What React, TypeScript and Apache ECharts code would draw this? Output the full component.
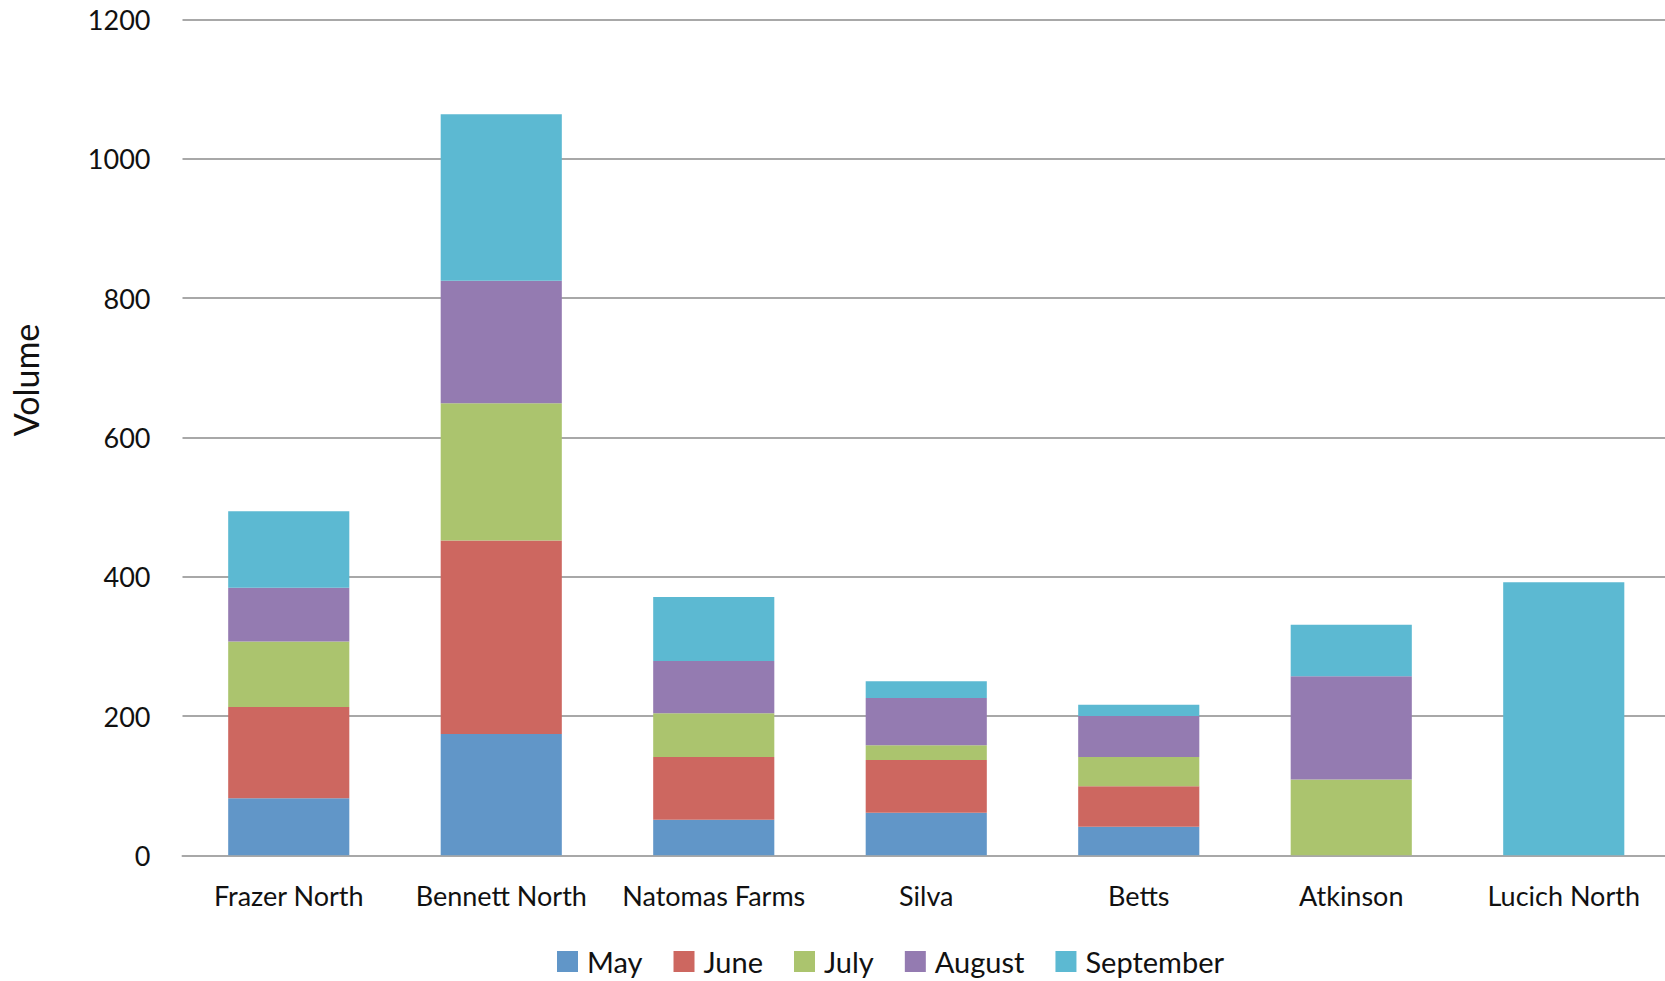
import React, { useEffect, useRef } from "react";
import * as echarts from "echarts";

const categories = ["Frazer North", "Bennett North", "Natomas Farms", "Silva", "Betts", "Atkinson", "Lucich North"];
const seriesNames = ["May", "June", "July", "August", "September"];
const may = [82, 174, 51, 61, 41, 0, 0];
const june = [131, 278, 90, 76, 58, 0, 0];
const july = [94, 197, 63, 21, 42, 109, 0];
const august = [77, 176, 75, 68, 59, 148, 0];
const september = [110, 239, 92, 24, 16, 74, 392];
const colors = ["#6196C8", "#CD6760", "#ABC46E", "#947BB1", "#5CB9D2"];
const yTicks = { min: 0, max: 1200, interval: 200 };

const FONT = "Lato, 'Noto Sans', sans-serif";

export default function App() {
  const ref = useRef<HTMLDivElement>(null);
  useEffect(() => {
    document.body.style.margin = "0";
    document.body.style.overflow = "hidden";
    document.documentElement.style.overflow = "hidden";
    if (!ref.current) return;
    const chart = echarts.init(ref.current, undefined, { renderer: "svg" });
    const values = [may, june, july, august, september];
    chart.setOption({
      animation: false,
      backgroundColor: "#ffffff",
      textStyle: { fontFamily: FONT },
      grid: { left: 182.5, top: 19.5, right: 2, bottom: 125.7, containLabel: false },
      legend: {
        data: seriesNames,
        left: 552,
        top: 942,
        icon: "rect",
        itemWidth: 21,
        itemHeight: 21,
        itemGap: 31,
        textStyle: { fontSize: 29, lineHeight: 29, color: "#111", fontFamily: FONT, padding: [0, 0, 0, 4] },
      },
      xAxis: {
        type: "category",
        data: categories,
        axisLine: { show: true, lineStyle: { color: "#a8a8a8", width: 2 } },
        axisTick: { show: false },
        axisLabel: { fontSize: 27, color: "#111", margin: 27, interval: 0, fontFamily: FONT },
      },
      yAxis: {
        type: "value",
        min: yTicks.min,
        max: yTicks.max,
        interval: yTicks.interval,
        axisLine: { show: false },
        axisTick: { show: false },
        splitLine: { lineStyle: { color: "#a8a8a8", width: 2 } },
        axisLabel: {
          fontSize: 27,
          color: "#111",
          margin: 32,
          fontFamily: FONT,
          formatter: (v: number) => String(v),
        },
      },
      graphic: [
        {
          type: "text",
          x: 25,
          y: 380,
          rotation: Math.PI / 2,
          style: {
            text: "Volume",
            fontSize: 34,
            fontFamily: FONT,
            fill: "#111",
            textAlign: "center",
            textVerticalAlign: "middle",
          },
        },
      ],
      series: seriesNames.map((name, i) => ({
        name,
        type: "bar",
        stack: "total",
        barCategoryGap: "43%",
        data: values[i].map((v) => (v === 0 ? null : v)),
        itemStyle: { color: colors[i] },
      })),
    });
    return () => chart.dispose();
  }, []);
  return <div ref={ref} style={{ width: 1672, height: 981 }} />;
}
